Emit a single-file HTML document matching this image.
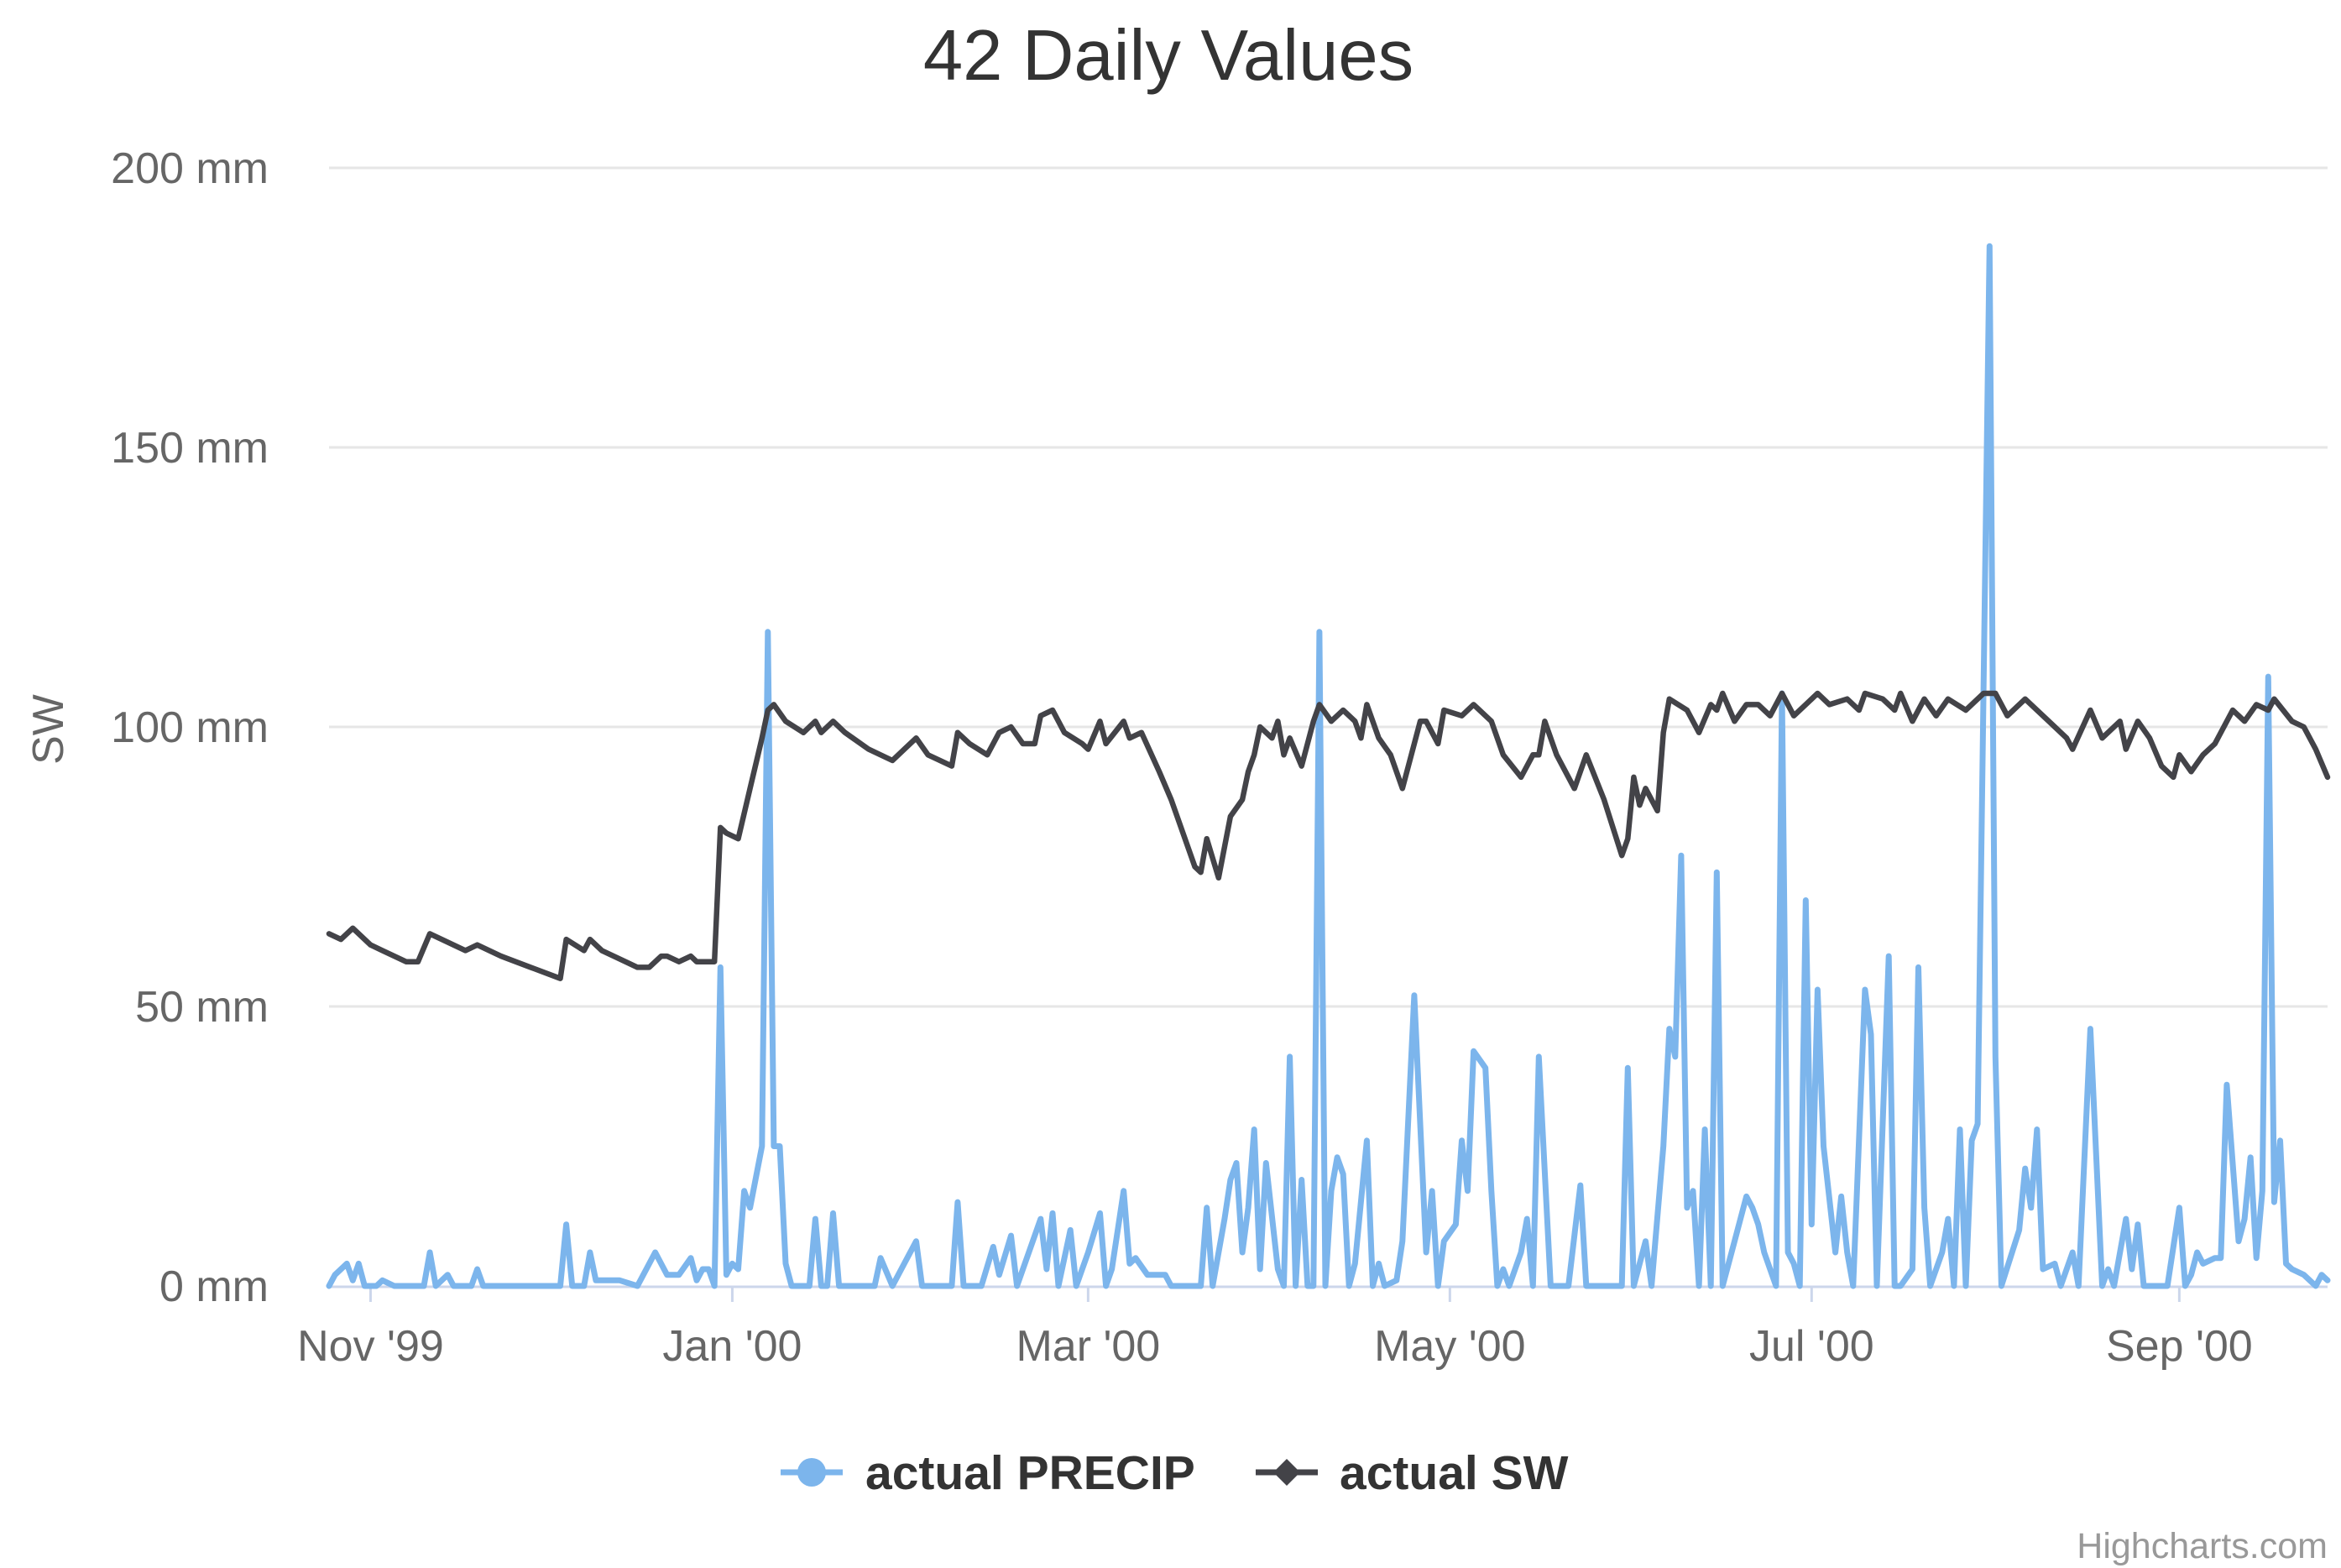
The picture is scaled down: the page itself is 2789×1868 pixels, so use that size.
<!DOCTYPE html>
<html><head><meta charset="utf-8"><style>
html,body{margin:0;padding:0;background:#fff}
svg{display:block}
text{font-family:"Liberation Sans",Arial,sans-serif}
</style></head><body>
<svg id="chart" width="2789" height="1868" viewBox="0 0 2789 1868" xmlns="http://www.w3.org/2000/svg">
<rect x="0" y="0" width="2789" height="1868" fill="#fff"/>
<text x="1392" y="95" text-anchor="middle" font-size="85" fill="#333">42 Daily Values</text>
<g id="grid"></g>
<g id="yaxis"></g>
<g id="xaxis"></g>
<text transform="translate(75,869) rotate(-90)" text-anchor="middle" font-size="52" fill="#666">SW</text>
<g id="series"></g>
<g>
 <g>
  <line x1="930" y1="1754" x2="1004" y2="1754" stroke="#7cb5ec" stroke-width="7"/>
  <circle cx="967" cy="1754" r="17" fill="#7cb5ec"/>
  <text x="1031" y="1774" font-size="57" font-weight="bold" fill="#333">actual PRECIP</text>
 </g>
 <g>
  <line x1="1496" y1="1754" x2="1570" y2="1754" stroke="#434348" stroke-width="7"/>
  <path d="M1533 1738 L1549 1754 L1533 1770 L1517 1754 Z" fill="#434348"/>
  <text x="1596" y="1774" font-size="57" font-weight="bold" fill="#333">actual SW</text>
 </g>
</g>
<text x="2773" y="1856" text-anchor="end" font-size="43" fill="#999">Highcharts.com</text>
</svg>
<script>
const yTicks = [0, 50, 100, 150, 200];
const xTickDays = [7, 68, 128, 189, 250, 312];
const xTickLabels = ["Nov '99", "Jan '00", "Mar '00", "May '00", "Jul '00", "Sep '00"];
const swDays = [0,2,4,7,9,13,15,17,19,23,25,29,34,39,40,43,44,46,52,54,56,57,59,61,62,65,66,67,69,71,73,74,75,77,80,82,83,85,87,91,95,97,99,101,105,106,108,111,113,115,117,119,120,122,124,127,128,130,131,134,135,137,140,142,146,147,148,150,152,154,155,156,157,159,160,161,162,164,166,167,169,171,173,174,175,177,179,181,182,184,185,187,188,191,193,196,198,201,203,204,205,207,210,212,215,218,219,220,221,222,224,225,226,229,231,233,234,235,237,239,241,243,245,247,249,251,253,256,258,259,262,264,265,267,269,271,273,276,279,281,283,286,288,290,293,294,297,299,302,303,305,307,309,311,312,314,316,318,321,323,325,327,328,331,333,335,337];
const swValues = [63,62,64,61,60,58,58,63,62,60,61,59,57,55,62,60,62,60,57,57,59,59,58,59,58,58,82,81,80,89,98,103,104,101,99,101,99,101,99,96,94,96,98,95,93,99,97,95,99,100,97,97,102,103,99,97,96,101,97,101,98,99,92,87,75,74,80,73,84,87,92,95,100,98,101,95,98,93,101,104,101,103,101,98,104,98,95,89,93,101,101,97,103,102,104,101,95,91,95,95,101,95,89,95,87,77,80,91,86,89,85,99,105,103,99,104,103,106,101,104,104,102,106,102,104,106,104,105,103,106,105,103,106,101,105,102,105,103,106,106,102,105,103,101,98,96,103,98,101,96,101,98,93,91,95,92,95,97,103,101,104,103,105,101,100,96,91];
const precipDays = [0,1,3,4,5,6,8,9,11,16,17,18,20,21,24,25,26,39,40,41,43,44,45,49,52,55,57,59,61,62,63,64,65,66,67,68,69,70,71,73,74,75,76,77,78,81,82,83,84,85,86,92,93,95,97,99,100,105,106,107,110,112,113,115,116,120,121,122,123,125,126,128,130,131,132,134,135,136,138,141,142,147,148,149,151,152,153,154,155,156,157,158,160,161,162,163,164,165,166,167,168,169,170,171,172,173,175,176,177,178,180,181,183,185,186,187,188,190,191,192,193,195,196,197,198,199,201,202,203,204,206,209,211,212,218,219,220,222,223,225,226,227,228,229,230,231,232,233,234,235,237,239,240,241,242,244,245,246,247,248,249,250,251,252,254,255,256,257,259,260,261,263,264,265,267,268,269,270,272,273,274,275,276,277,278,280,281,282,285,286,287,288,289,291,292,294,295,297,299,300,301,303,304,305,306,310,312,313,314,315,316,318,319,320,322,323,324,325,326,327,328,329,330,331,333,335,336,337];
const precipValues = [0,2,4,1,4,0,0,1,0,0,6,0,2,0,0,3,0,0,11,0,0,6,1,1,0,6,2,2,5,1,3,3,0,57,2,4,3,17,14,25,117,25,25,4,0,0,12,0,0,13,0,0,5,0,4,8,0,0,15,0,0,7,2,9,0,12,3,13,0,10,0,6,13,0,3,17,4,5,2,2,0,0,14,0,12,19,22,6,14,28,3,22,3,0,41,0,19,0,0,117,0,17,23,20,0,4,26,0,4,0,1,8,52,6,17,0,8,11,26,17,42,39,17,0,3,0,6,12,0,41,0,0,18,0,0,39,0,8,0,25,46,41,77,14,17,0,28,0,74,0,8,16,14,11,6,0,106,6,4,0,69,11,53,25,6,16,6,0,53,45,0,59,0,0,3,57,14,0,6,12,0,28,0,26,29,186,41,0,10,21,14,28,3,4,0,6,0,46,0,3,0,12,3,11,0,0,14,0,2,6,4,5,5,36,8,12,23,5,17,109,15,26,4,3,2,0,2,1];

const NS = "http://www.w3.org/2000/svg";
const L = 392, R = 2773, T = 200, B = 1532;
const dayMax = 337, yMax = 200;
function xScale(d){ return L + (d / dayMax) * (R - L); }
function yScale(v){ return B - (v / yMax) * (B - T); }
function mk(tag, attrs, parent){ const e = document.createElementNS(NS, tag); for (const k in attrs) e.setAttribute(k, attrs[k]); parent.appendChild(e); return e; }

const grid = document.getElementById('grid');
const yaxis = document.getElementById('yaxis');
yTicks.forEach(v => {
  if (v > 0) {
    const gl = mk('line', {x1: L, x2: R, y1: yScale(v), y2: yScale(v), stroke: '#e6e6e6', 'stroke-width': 3}, grid);
    
    
  }
  const t = mk('text', {x: 320, y: yScale(v) + 18, 'text-anchor': 'end', 'font-size': 52, fill: '#666'}, yaxis);
  t.textContent = v + ' mm';
  
  
});

const xaxis = document.getElementById('xaxis');
const axl = mk('line', {x1: L, x2: R, y1: B + 1, y2: B + 1, stroke: '#ccd6eb', 'stroke-width': 3}, xaxis);


xTickDays.forEach((d, i) => {
  const x = xScale(d);
  const tk = mk('line', {x1: x, x2: x, y1: B, y2: B + 19, stroke: '#ccd6eb', 'stroke-width': 3}, xaxis);
  
  
  const t = mk('text', {x: x, y: 1621, 'text-anchor': 'middle', 'font-size': 52, fill: '#666'}, xaxis);
  t.textContent = xTickLabels[i];
  
  
});

const series = document.getElementById('series');
function pathFor(days, vals){ return days.map((d, i) => (i ? 'L' : 'M') + xScale(d).toFixed(1) + ' ' + yScale(vals[i]).toFixed(1)).join(' '); }
const p1 = mk('path', {d: pathFor(precipDays, precipValues), fill: 'none', stroke: '#7cb5ec', 'stroke-width': 7, 'stroke-linejoin': 'round', 'stroke-linecap': 'round'}, series);


const p2 = mk('path', {d: pathFor(swDays, swValues), fill: 'none', stroke: '#434348', 'stroke-width': 6.5, 'stroke-linejoin': 'round', 'stroke-linecap': 'round'}, series);


</script>
</body></html>
